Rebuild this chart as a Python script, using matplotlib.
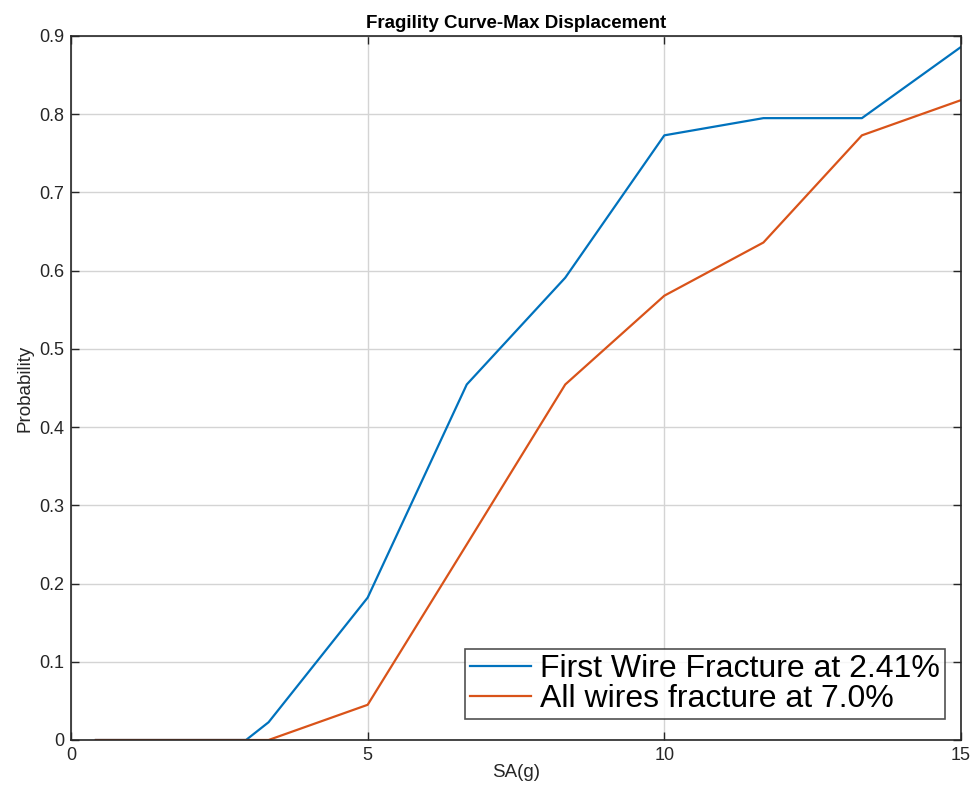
import matplotlib
matplotlib.use("Agg")
import matplotlib.pyplot as plt

sa = [0.42, 2.95, 3.33, 5.0, 6.67, 8.33, 10.0, 11.67, 13.33, 15.0]
first_wire = [0.0, 0.0, 0.0227, 0.182, 0.4545, 0.591, 0.773, 0.795, 0.795, 0.886]
all_wires = [0.0, 0.0, 0.0, 0.045, 0.25, 0.4545, 0.568, 0.636, 0.773, 0.818]
labels = ["First Wire Fracture at 2.41%", "All wires fracture at 7.0%"]
xticks = [0, 5, 10, 15]
yticks = [0, 0.1, 0.2, 0.3, 0.4, 0.5, 0.6, 0.7, 0.8, 0.9]

plt.rcParams['font.family'] = ['Liberation Sans', 'DejaVu Sans']

fig = plt.figure(figsize=(9.77, 7.92), dpi=100)
ax = fig.add_axes([71/977, 52/792, 890/977, 704/792])

ax.plot(sa, first_wire, color='#0072BD', lw=1.6, label=labels[0])
ax.plot(sa, all_wires, color='#D95319', lw=1.6, label=labels[1])

ax.set_xlim(0, 15)
ax.set_ylim(0, 0.9)
ax.set_xticks(xticks)
ax.set_yticks(yticks)
ax.set_yticklabels(["0"] + [f"{v:g}" for v in yticks[1:]])
ax.grid(True, color='#d4d4d4', lw=1.0)
ax.set_axisbelow(True)
ax.tick_params(direction='in', length=6, width=1, top=True, right=True,
               labelsize=13, colors='#262626', pad=5)
for s in ax.spines.values():
    s.set_linewidth(1.2)
    s.set_color('#262626')

ax.set_title("Fragility Curve-Max Displacement", fontsize=13.5, fontweight='bold', pad=6)
ax.set_xlabel("SA(g)", fontsize=13.5, labelpad=0, color='#262626')
ax.set_ylabel("Probability", fontsize=13.5, labelpad=4, color='#262626')

leg = ax.legend(loc='lower right', bbox_to_anchor=(0.982, 0.03), fontsize=23,
                frameon=True, fancybox=False, edgecolor='#262626',
                handlelength=1.9, handletextpad=0.3, borderpad=0.15,
                labelspacing=0.0, borderaxespad=0)
leg.get_frame().set_linewidth(1.2)

fig.savefig("out.png", dpi=100)
